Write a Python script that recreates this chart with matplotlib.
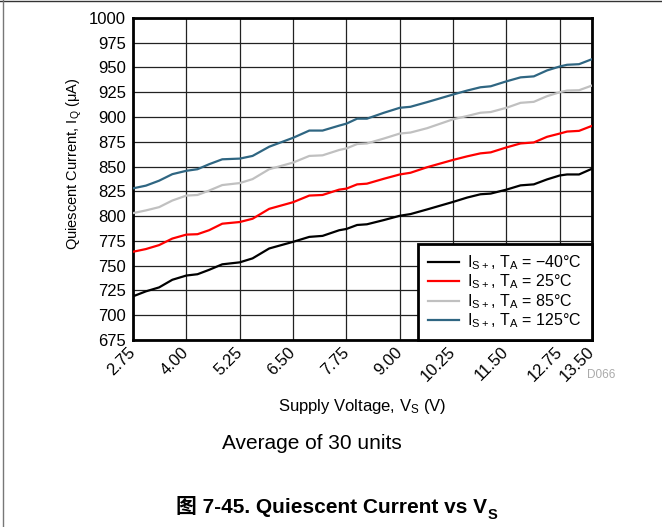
import matplotlib
matplotlib.use("Agg")
import matplotlib.pyplot as plt
from matplotlib.lines import Line2D

plt.rcParams['font.family'] = ['Liberation Sans', 'Noto Sans CJK SC', 'DejaVu Sans']
plt.rcParams['mathtext.default'] = 'regular'

# supply voltage (V)
vs = [2.75, 3.05, 3.36, 3.67, 4.00, 4.26, 4.53, 4.84, 5.25, 5.55, 5.94, 6.50,
      6.88, 7.19, 7.58, 7.75, 8.00, 8.23, 8.63, 9.00, 9.25, 9.64, 10.25, 10.58,
      10.89, 11.13, 11.50, 11.83, 12.14, 12.45, 12.75, 12.92, 13.20, 13.50]

# quiescent current (uA) per temperature
iq_m40 = [719, 724, 728, 735.7, 740, 741.3, 745.7, 751.3, 753.3, 757.3, 767.3, 774,
          779, 780, 785.7, 787, 791, 791.7, 796, 800.3, 802, 806.7, 814.3, 818.7,
          822, 822.7, 826.7, 831, 832, 837, 841, 842, 842, 847.7]
iq_25 = [764, 766.7, 770.7, 777.3, 781.3, 781.7, 785.7, 792.3, 794, 797.3, 807.3, 814,
         820.7, 821.3, 826.7, 827.7, 832, 832.7, 837.7, 842, 843.7, 849.3, 856.7, 860.3,
         863.3, 864.3, 869.3, 873.3, 874.3, 880, 883.3, 885.3, 886, 891]
iq_85 = [803, 805.7, 809, 815.7, 820.7, 821.3, 825.7, 831.3, 833.3, 837.3, 847.3, 854,
         860.7, 861.3, 866.7, 868.3, 872.7, 873.3, 878.3, 883.3, 884.3, 888.7, 897.7, 901,
         904.3, 905, 909.3, 914.3, 915.3, 921, 925, 926.7, 927, 931.7]
iq_125 = [828, 830.7, 835.7, 842.3, 845.7, 847.3, 852.3, 857.3, 858, 860.7, 870, 879,
          886.3, 886.3, 891.3, 893.3, 898.3, 898.3, 904.3, 909.3, 910.3, 915, 922.7, 926.7,
          930, 931, 936, 940, 941, 947, 951, 952.7, 953.3, 958.3]

labels = [r'$I_{S+}$, $T_A$ = −40°C', r'$I_{S+}$, $T_A$ = 25°C',
          r'$I_{S+}$, $T_A$ = 85°C', r'$I_{S+}$, $T_A$ = 125°C']
colors = ['black', '#ff0000', '#c0c0c0', '#2f6682']

xticks = [2.75, 4.00, 5.25, 6.50, 7.75, 9.00, 10.25, 11.50, 12.75, 13.50]
yticks = list(range(675, 1001, 25))

fig = plt.figure(figsize=(6.62, 5.27), dpi=100)
ax = fig.add_axes([0.201, 0.355, 0.693, 0.611])

for ys, c, lab in zip([iq_m40, iq_25, iq_85, iq_125], colors, labels):
    ax.plot(vs, ys, color=c, lw=1.6, label=lab, zorder=3)

ax.set_xlim(2.75, 13.5)
ax.set_ylim(675, 1000)
ax.set_xticks(xticks)
ax.set_xticklabels(['%.2f' % x for x in xticks], rotation=45, ha='right',
                   va='center', rotation_mode='anchor')
ax.set_yticks(yticks)
ax.tick_params(length=0, labelsize=12, pad=5)
ax.tick_params(axis='x', pad=7)
ax.grid(True, color='#222222', lw=0.9)
for s in ax.spines.values():
    s.set_linewidth(2)

ax.set_xlabel(r'Supply Voltage, $V_S$ (V)', fontsize=12, labelpad=9)
ax.set_ylabel(r'Quiescent Current, $I_Q$ ($\mu$A)', fontsize=10.5)
ax.yaxis.set_label_coords(-0.108, 0.547)

leg = ax.legend(loc='lower right', fontsize=11.5, fancybox=False, borderaxespad=0,
                framealpha=1, handlelength=2.0, handletextpad=0.5,
                labelspacing=0.05, borderpad=0.6)
leg.get_frame().set_edgecolor('black')
leg.get_frame().set_linewidth(2)

fig.text(0.929, 0.288, 'D066', color='#aaaaaa', fontsize=8.5, ha='right', va='center')
fig.text(0.471, 0.159, 'Average of 30 units', fontsize=15, ha='center', va='center')
cap = fig.text(0.501, 0.038, '图 7-45. Quiescent Current vs V',
               fontsize=15, fontweight='bold', ha='center', va='center')
fig.canvas.draw()
ax.annotate('S', xy=(1, 0), xycoords=cap, xytext=(0.5, -3),
            textcoords='offset points', fontsize=10.5, fontweight='bold',
            ha='left', va='bottom')

# page frame
fig.add_artist(Line2D([0, 1], [0.998, 0.998], color='#333333', lw=1))
fig.add_artist(Line2D([0.004, 0.004], [0, 1], color='#777777', lw=1))

fig.savefig('out.png', dpi=100)
